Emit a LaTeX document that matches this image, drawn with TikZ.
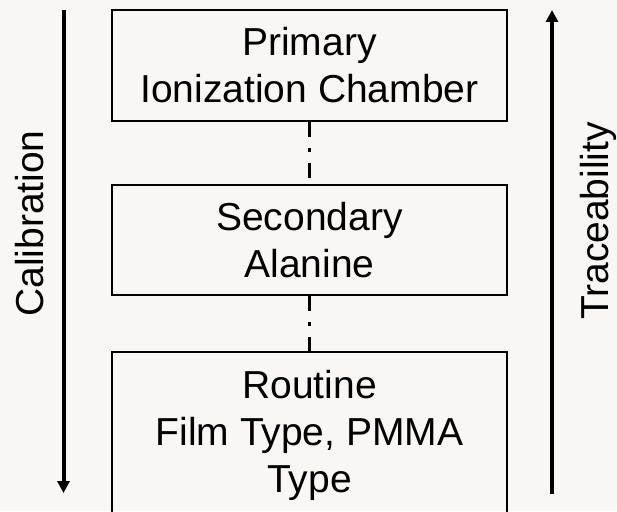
\documentclass[tikz,border=0pt]{standalone}
\usepackage{fontspec}
\setmainfont{Liberation Sans}
\usetikzlibrary{arrows.meta, positioning}
\definecolor{paper}{RGB}{249,247,245}
\tikzset{%
	box/.style={draw, rectangle, line width=1.8pt, minimum width=395pt, inner sep=0pt,%
		align=center, font=\fontsize{39}{47}\selectfont},
	link/.style={line width=3.5pt, dash pattern=on 15pt off 11pt on 4pt off 11pt},
	flow/.style={line width=4pt, -{Triangle[length=12pt, width=12pt]}},
	side/.style={rotate=90, anchor=base, font=\fontsize{39}{47}\selectfont}
}
\begin{document}
\begin{tikzpicture}[x=1pt, y=-1pt]
	\fill[paper] (0,0) rectangle (617,511);
	\clip (0,0) rectangle (617,511);

	\node[box, minimum height=111pt] (prim) at (309.5,65.5) {Primary\\Ionization Chamber};
	\node[box, minimum height=110pt, below=62.2pt of prim] (sec) {Secondary\\Alanine};
	\node[box, minimum height=167pt, below=55.2pt of sec] (rout) {Routine\\Film Type, PMMA\\Type};

	\draw[link] (prim.south) -- (sec.north);
	\draw[link] (sec.south) -- (rout.north);

	\coordinate (calStart) at (63.5,10);
	\coordinate (calEnd) at (63.5,493);
	\coordinate (trcStart) at (552,494);
	\coordinate (trcEnd) at (552,10);
	\draw[flow] (calStart) -- (calEnd);
	\draw[flow] (trcStart) -- (trcEnd);

	\node[side] (cal) at (43.5,223.5) {Calibration};
	\node[side] (trc) at (608,221) {Traceability};
\end{tikzpicture}
\end{document}
